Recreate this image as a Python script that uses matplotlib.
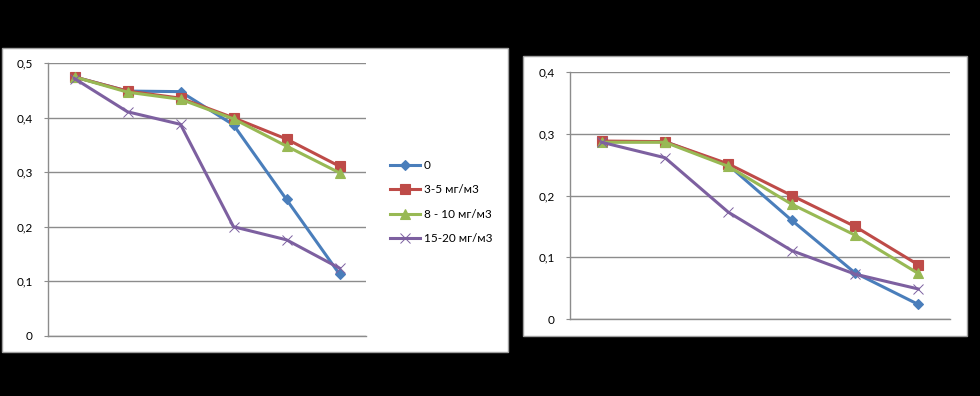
import matplotlib
matplotlib.use("Agg")
import matplotlib.pyplot as plt
from matplotlib.patches import Rectangle
from matplotlib.ticker import FuncFormatter

plt.rcParams['font.family'] = ['Lato', 'DejaVu Sans']

categories = [1, 2, 3, 4, 5, 6]
series_labels = ['0', '3-5 мг/м3', '8 - 10 мг/м3', '15-20 мг/м3']

left_0 = [0.475, 0.449, 0.448, 0.387, 0.250, 0.113]
left_3_5 = [0.475, 0.449, 0.436, 0.400, 0.361, 0.311]
left_8_10 = [0.475, 0.447, 0.434, 0.398, 0.348, 0.299]
left_15_20 = [0.472, 0.411, 0.388, 0.200, 0.176, 0.124]

right_0 = [0.287, 0.287, 0.249, 0.160, 0.075, 0.024]
right_3_5 = [0.288, 0.287, 0.251, 0.200, 0.150, 0.088]
right_8_10 = [0.286, 0.286, 0.247, 0.186, 0.136, 0.074]
right_15_20 = [0.286, 0.261, 0.173, 0.111, 0.073, 0.049]

left_yticks = [0, 0.1, 0.2, 0.3, 0.4, 0.5]
right_yticks = [0, 0.1, 0.2, 0.3, 0.4]

colors = ['#4A7EBB', '#BE4B48', '#98B954', '#7D60A0']
markers = ['D', 's', '^', 'x']
msizes = [5, 7, 7, 7]

W, H = 980, 396
fig = plt.figure(figsize=(W / 100, H / 100), dpi=100, facecolor='black')


def px_rect(x0, y0, x1, y1):
    return [x0 / W, 1 - y1 / H, (x1 - x0) / W, (y1 - y0) / H]


for (x0, y0, x1, y1) in [(2, 48, 508, 352), (523, 56, 967, 336)]:
    r = px_rect(x0, y0, x1, y1)
    fig.patches.append(Rectangle((r[0], r[1]), r[2], r[3], transform=fig.transFigure,
                                 facecolor='white', edgecolor='#A0A0A0', linewidth=1, zorder=-5))

fmt = FuncFormatter(lambda v, p: ('%g' % round(v, 2)).replace('.', ','))


def draw(ax, data, yticks):
    x = list(range(len(categories)))
    for vals, c, m, ms in zip(data, colors, markers, msizes):
        ax.plot(x, vals, color=c, marker=m, markersize=ms, linewidth=2.2,
                markeredgewidth=0.7 if m == 'x' else 0.8, markeredgecolor=c,
                markerfacecolor=c, clip_on=False)
    ax.set_xlim(-0.5, len(categories) - 0.5)
    ax.set_ylim(yticks[0], yticks[-1])
    ax.set_yticks(yticks)
    ax.yaxis.set_major_formatter(fmt)
    ax.set_xticks([])
    ax.grid(axis='y', color='#8C8C8C', linewidth=1)
    ax.set_axisbelow(True)
    for s in ['top', 'right']:
        ax.spines[s].set_visible(False)
    for s in ['left', 'bottom']:
        ax.spines[s].set_color('#8C8C8C')
        ax.spines[s].set_linewidth(1)
    ax.tick_params(axis='y', length=3, color='#8C8C8C', labelsize=8.5, pad=8, labelcolor='black')
    ax.set_facecolor('none')


axL = fig.add_axes(px_rect(48, 63.3, 366, 335.7))
draw(axL, [left_0, left_3_5, left_8_10, left_15_20], left_yticks)
axL.set_zorder(2)

axR = fig.add_axes(px_rect(570, 71.7, 950, 319.3))
draw(axR, [right_0, right_3_5, right_8_10, right_15_20], right_yticks)
axR.set_zorder(2)

handles = axL.get_lines()
leg = fig.legend(handles, series_labels, loc='upper left',
                 bbox_to_anchor=(385 / W, 1 - 155 / H), frameon=False,
                 fontsize=8.5, handlelength=2.6, handletextpad=0.3,
                 labelspacing=1.15, numpoints=1, borderaxespad=0)
leg.set_zorder(3)

fig.savefig('out.png', dpi=100, facecolor='black')
